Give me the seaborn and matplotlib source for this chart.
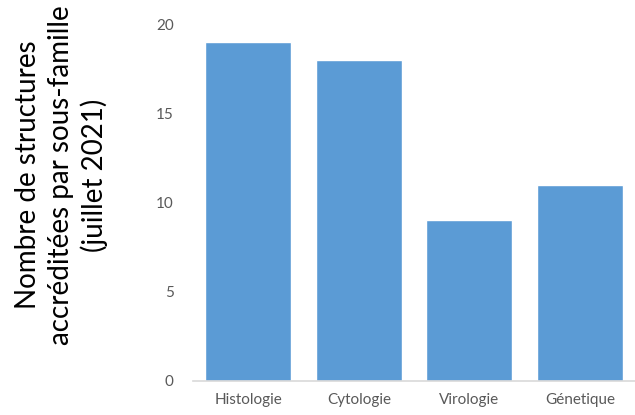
import matplotlib
matplotlib.use("Agg")
import matplotlib.pyplot as plt
import seaborn as sns
import pandas as pd

categories = ["Histologie", "Cytologie", "Virologie", "Génetique"]
counts = [19, 18, 9, 11]
y_ticks = [0, 5, 10, 15, 20]

sns.set_theme(style="white")
plt.rcParams["font.family"] = ["Lato", "DejaVu Sans"]

df = pd.DataFrame({"famille": categories, "n": counts})

fig = plt.figure(figsize=(6.35, 4.15), dpi=100)
ax = fig.add_axes([0.304, 0.082, 0.696, 0.860])

sns.barplot(data=df, x="famille", y="n", color="#5B9BD5", saturation=1,
            width=0.78, ax=ax)

ax.set_ylim(0, 20)
ax.set_xlim(-0.5, 3.5)
ax.set_yticks(y_ticks)
ax.set_xlabel("")
ax.set_ylabel("")
for s in ["top", "right", "left"]:
    ax.spines[s].set_visible(False)
ax.spines["bottom"].set_color("#D9D9D9")
ax.spines["bottom"].set_linewidth(1.2)
ax.tick_params(axis="both", length=0, colors="#595959", labelsize=11)
ax.tick_params(axis="y", pad=14)
ax.tick_params(axis="x", pad=9)

fig.text(0.097, 0.578,
         "Nombre de structures\naccréditées par sous-famille\n(juillet 2021)",
         rotation=90, ha="center", va="center", fontsize=20,
         color="#000000", linespacing=1.3)

fig.savefig("out.png", dpi=100)
